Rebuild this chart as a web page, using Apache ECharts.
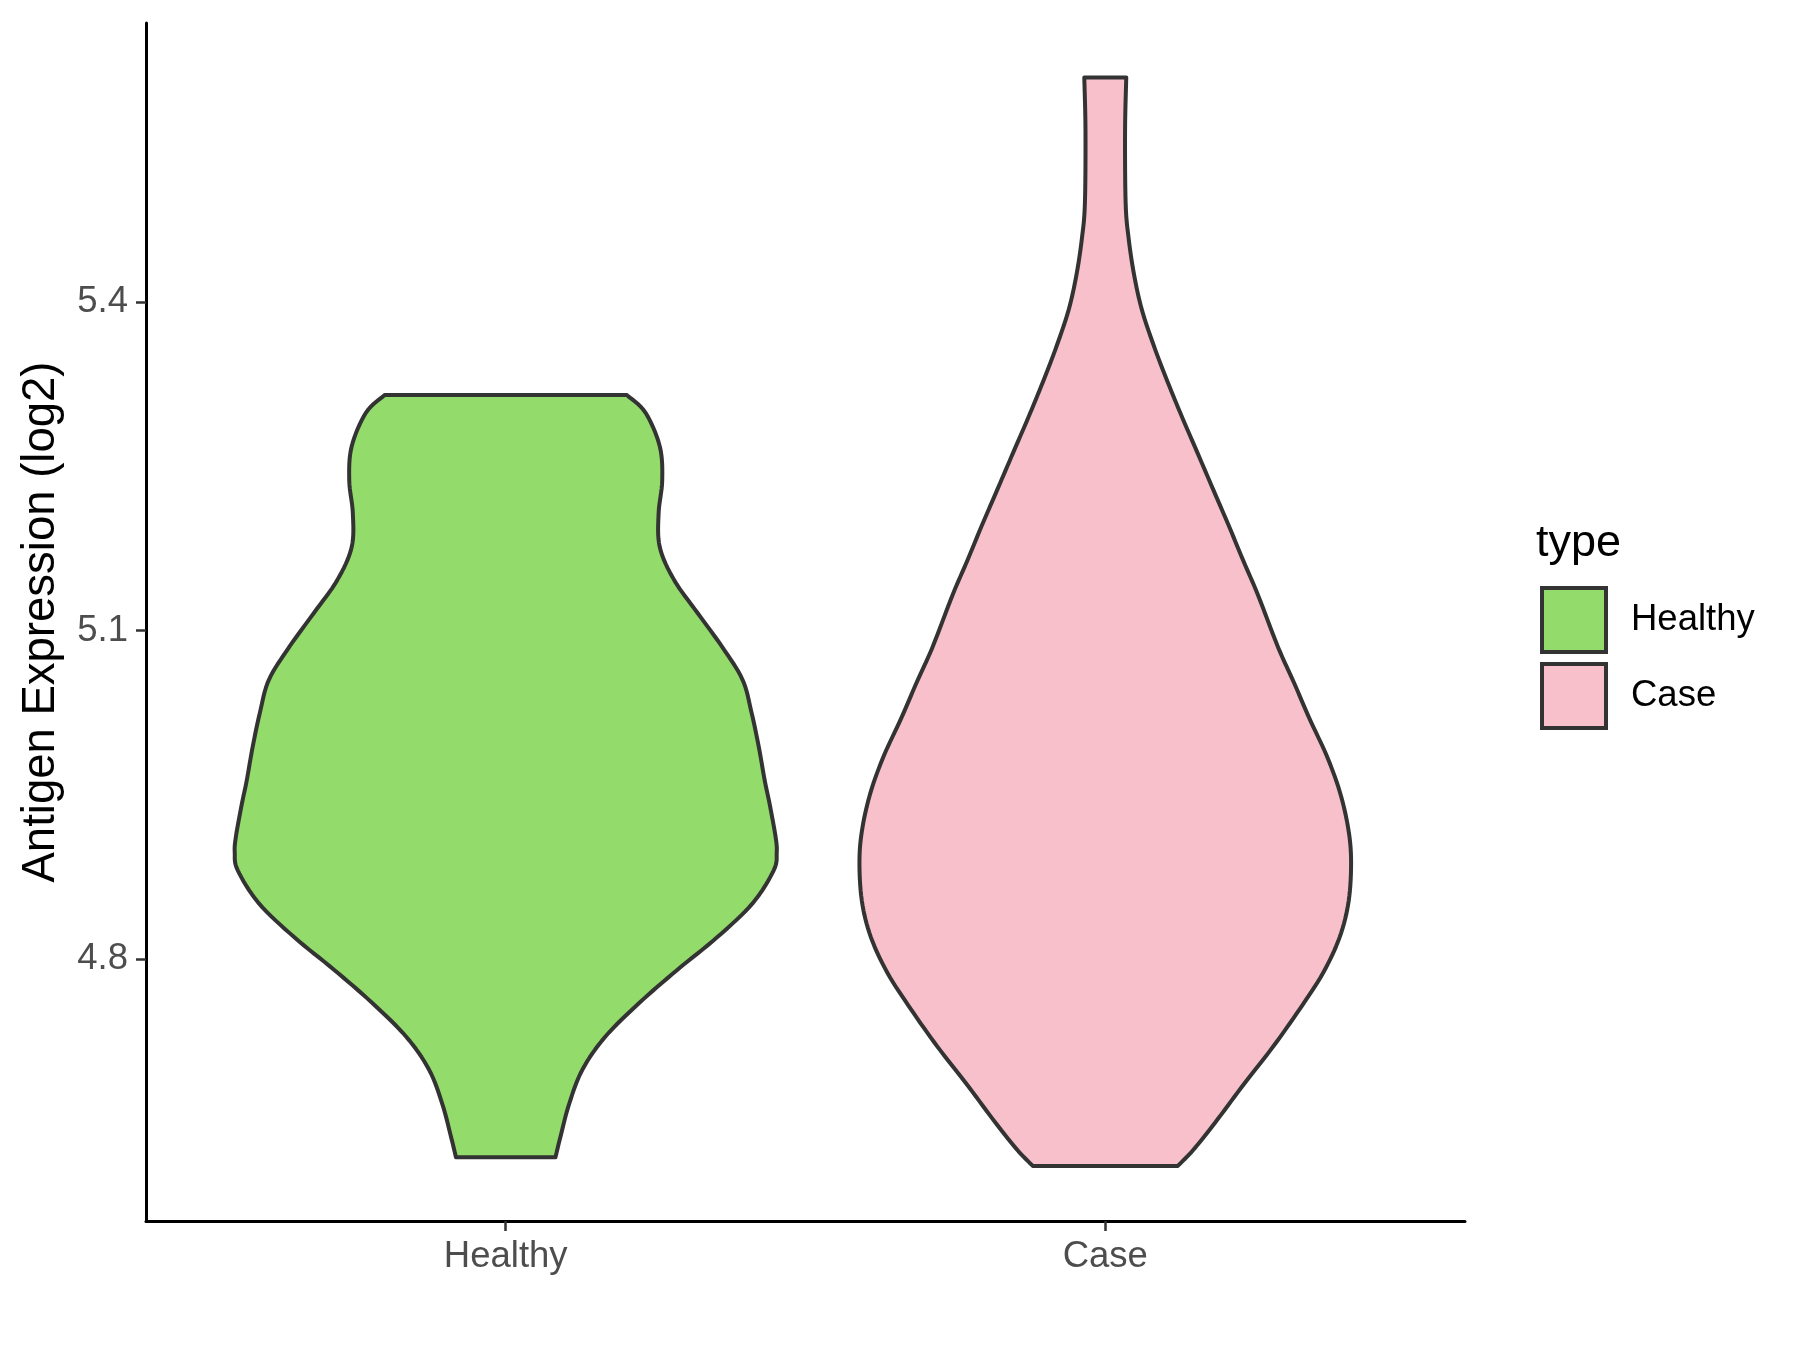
<!DOCTYPE html>
<html>
<head>
<meta charset="utf-8">
<title>Antigen Expression violin</title>
<script src="https://cdn.jsdelivr.net/npm/echarts@6/dist/echarts.min.js"></script>
<style>
  html, body { margin: 0; padding: 0; background: #ffffff; }
  #chart { width: 1800px; height: 1350px; }
</style>
</head>
<body>
<div id="chart"></div>
<script>
// groups on the x axis and their positions
const groups = ['Healthy', 'Case']
const groupPos = [1, 2]

// violin outlines: expression value and half width (x units)
const healthyY = [4.619, 4.637, 4.668, 4.699, 4.729, 4.760, 4.790, 4.820, 4.851, 4.881, 4.897, 4.912, 4.942,
  4.963, 4.994, 5.025, 5.055, 5.085, 5.116, 5.146, 5.176, 5.207, 5.237, 5.268, 5.299, 5.315]
const healthyHalfWidth = [0.083, 0.091, 0.106, 0.128, 0.166, 0.223, 0.286, 0.353, 0.412, 0.447, 0.452, 0.450, 0.440,
  0.432, 0.422, 0.410, 0.395, 0.361, 0.320, 0.281, 0.257, 0.255, 0.261, 0.257, 0.233, 0.202]

const caseY = [4.611, 4.627, 4.654, 4.687, 4.720, 4.754, 4.787, 4.820, 4.853, 4.890, 4.920, 4.953, 4.986, 5.019,
  5.052, 5.085, 5.132, 5.164, 5.197, 5.230, 5.262, 5.295, 5.327, 5.360, 5.393, 5.425, 5.458, 5.490, 5.556, 5.605]
const caseHalfWidth = [0.121, 0.149, 0.188, 0.233, 0.280, 0.324, 0.363, 0.391, 0.406, 0.410, 0.405, 0.391, 0.369, 0.341,
  0.315, 0.288, 0.255, 0.230, 0.205, 0.179, 0.154, 0.128, 0.104, 0.081, 0.061, 0.048, 0.039, 0.034, 0.033, 0.035]

const yTicks = [4.8, 5.1, 5.4]

const groupColors = {
  'Healthy': '#93db6a',
  'Case': '#f7c0cb'
}
const outline = '#333333'
const fontFamily = '"Liberation Sans", Arial, sans-serif'

// catmull-rom through pixel points, sampled for a smooth outline
function smoothLine(pts) {
  const out = [pts[0]]
  for (let i = 0; i < pts.length - 1; i++) {
    const p0 = pts[Math.max(i - 1, 0)]
    const p1 = pts[i]
    const p2 = pts[i + 1]
    const p3 = pts[Math.min(i + 2, pts.length - 1)]
    const c1 = [p1[0] + (p2[0] - p0[0]) / 6, p1[1] + (p2[1] - p0[1]) / 6]
    const c2 = [p2[0] - (p3[0] - p1[0]) / 6, p2[1] - (p3[1] - p1[1]) / 6]
    for (let s = 1; s <= 8; s++) {
      const t = s / 8, u = 1 - t
      out.push([
        u * u * u * p1[0] + 3 * u * u * t * c1[0] + 3 * u * t * t * c2[0] + t * t * t * p2[0],
        u * u * u * p1[1] + 3 * u * u * t * c1[1] + 3 * u * t * t * c2[1] + t * t * t * p2[1]
      ])
    }
  }
  return out
}

function violin(name, pos, ys, hws) {
  return {
    name: name,
    type: 'custom',
    itemStyle: { color: groupColors[name], borderColor: outline, borderWidth: 4 },
    data: [[pos, ys[0]]],
    renderItem: (params, api) => {
      const right = ys.map((y, i) => api.coord([pos + hws[i], y]))
      const left = ys.map((y, i) => api.coord([pos - hws[i], y])).reverse()
      return {
        type: 'polygon',
        shape: { points: smoothLine(right).concat(smoothLine(left)) },
        style: { fill: groupColors[name], stroke: outline, lineWidth: 4, lineJoin: 'round' }
      }
    }
  }
}

const chart = echarts.init(document.getElementById('chart'))

chart.setOption({
  backgroundColor: '#ffffff',
  animation: false,
  textStyle: { fontFamily: fontFamily },
  title: {
    text: 'type',
    left: 1536,
    top: 521,
    padding: 0,
    textStyle: { fontFamily: fontFamily, fontSize: 45, fontWeight: 'normal', color: '#000000' }
  },
  legend: {
    orient: 'vertical',
    left: 1540,
    top: 586,
    padding: 0,
    itemWidth: 64,
    itemHeight: 64,
    itemGap: 8,
    selectedMode: false,
    textStyle: { fontFamily: fontFamily, fontSize: 36.5, color: '#000000', padding: [0, 0, 0, 20] },
    data: groups.map(g => ({
      name: g,
      icon: 'rect',
      itemStyle: { color: groupColors[g], borderColor: outline, borderWidth: 4 }
    }))
  },
  grid: { left: 146, right: 335, top: 23, bottom: 129 },
  xAxis: {
    type: 'value',
    min: 0.4,
    max: 2.6,
    splitLine: { show: false },
    axisLine: { lineStyle: { color: '#000000', width: 3 } },
    axisTick: { customValues: groupPos, length: 10, lineStyle: { color: '#333333', width: 2.5 } },
    axisLabel: {
      customValues: groupPos,
      formatter: v => groups[Math.round(v) - 1],
      fontFamily: fontFamily,
      fontSize: 36.5,
      color: '#4d4d4d',
      margin: 17
    }
  },
  yAxis: {
    type: 'value',
    min: 4.5607,
    max: 5.6548,
    name: 'Antigen Expression (log2)',
    nameLocation: 'middle',
    nameRotate: 90,
    nameGap: 82,
    nameTextStyle: { fontFamily: fontFamily, fontSize: 45.5, color: '#000000' },
    splitLine: { show: false },
    axisLine: { lineStyle: { color: '#000000', width: 3 } },
    axisTick: { customValues: yTicks, length: 10, lineStyle: { color: '#333333', width: 2.5 } },
    axisLabel: {
      customValues: yTicks,
      formatter: v => v.toFixed(1),
      fontFamily: fontFamily,
      fontSize: 36.5,
      color: '#4d4d4d',
      margin: 18
    }
  },
  series: [
    violin('Healthy', groupPos[0], healthyY, healthyHalfWidth),
    violin('Case', groupPos[1], caseY, caseHalfWidth)
  ]
})

window.addEventListener('resize', () => chart.resize())
</script>
</body>
</html>
